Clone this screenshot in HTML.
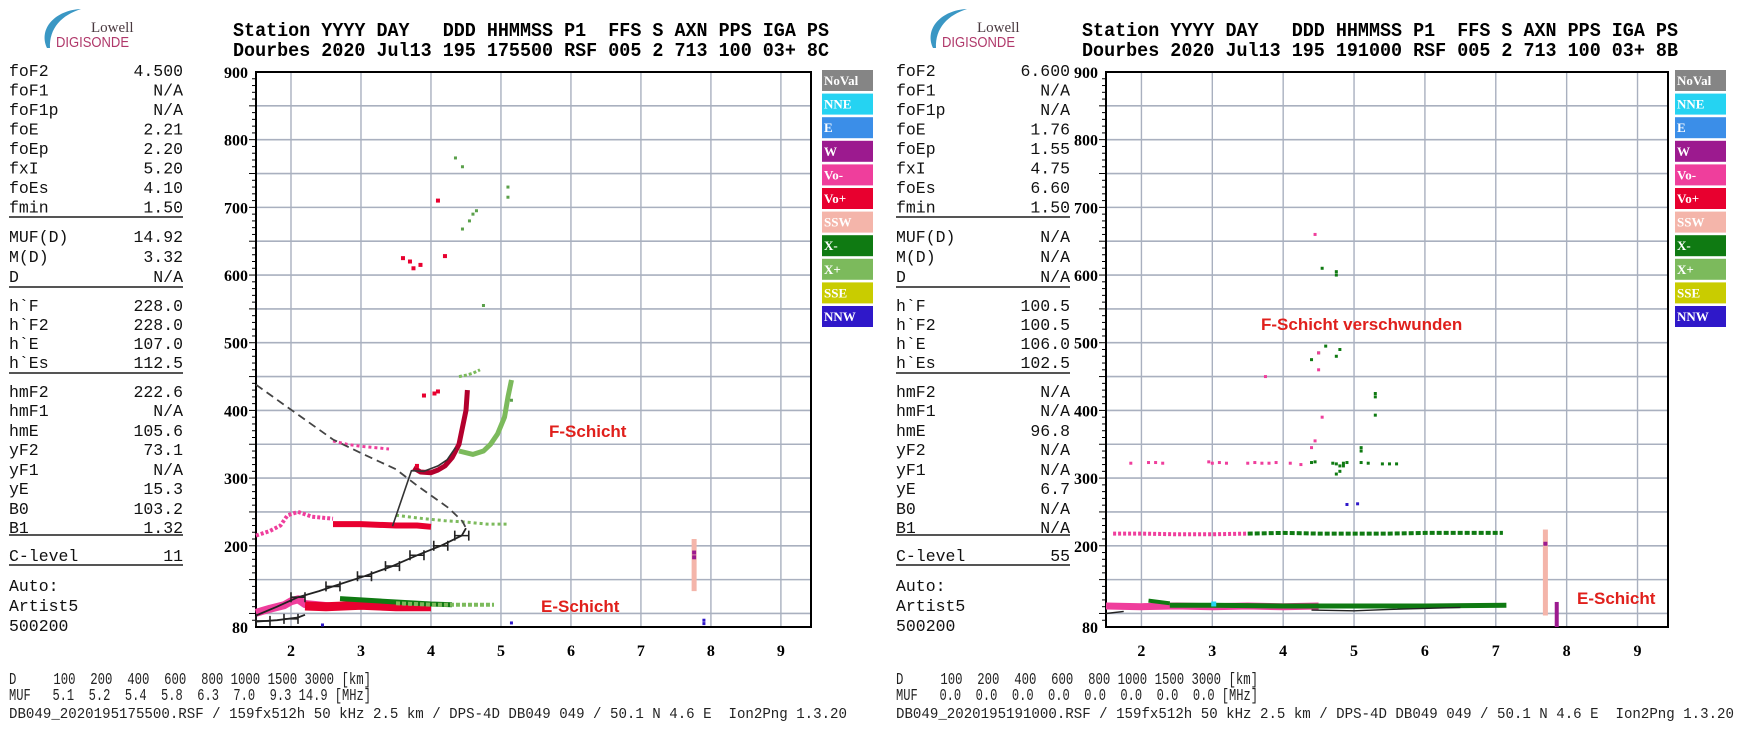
<!DOCTYPE html>
<html><head><meta charset="utf-8"><style>
html,body{margin:0;padding:0;background:#fff;}
svg{display:block;}
</style></head><body>
<svg id="root" xmlns="http://www.w3.org/2000/svg" width="1750" height="732" viewBox="0 0 1750 732"></svg>
<script>
// ===== data arrays =====
const yTicks = [900,800,700,600,500,400,300,200,80];
const xTicks = [2,3,4,5,6,7,8,9];
const legendLabels = ["NoVal","NNE","E","W","Vo-","Vo+","SSW","X-","X+","SSE","NNW"];
const legendColors = ["#858585","#25d3f2","#3b8ee8","#9c1a8f","#ef3e9c","#e8002f","#f4b5aa","#0f7a12","#7cba5c","#c9cc00","#2f18c9"];
const paramNames = ["foF2","foF1","foF1p","foE","foEp","fxI","foEs","fmin","MUF(D)","M(D)","D","h`F","h`F2","h`E","h`Es","hmF2","hmF1","hmE","yF2","yF1","yE","B0","B1","C-level"];
const leftParamValues = ["4.500","N/A","N/A","2.21","2.20","5.20","4.10","1.50","14.92","3.32","N/A","228.0","228.0","107.0","112.5","222.6","N/A","105.6","73.1","N/A","15.3","103.2","1.32","11"];
const rightParamValues = ["6.600","N/A","N/A","1.76","1.55","4.75","6.60","1.50","N/A","N/A","N/A","100.5","100.5","106.0","102.5","N/A","N/A","96.8","N/A","N/A","6.7","N/A","N/A","55"];

// Left ionogram traces (freq MHz, height km)
const L_eVoMinusF = [1.5,1.7,1.9,2.0,2.1,2.2,2.4,2.6];
const L_eVoMinusH = [101,107,112,118,121,114,112,110];
const L_eVoPlusF = [2.2,2.5,3.0,3.5,4.0];
const L_eVoPlusH = [111,110,112,110,110];
const L_eXMinusF = [2.7,3.0,3.5,4.0,4.3];
const L_eXMinusH = [122,120,117,114,113];
const L_eXPlusF = [3.5,4.0,4.5,4.9];
const L_eXPlusH = [115,113,113,113];
const L_fPinkF = [1.5,1.7,1.85,1.95,2.1,2.3,2.6];
const L_fPinkH = [215,222,230,245,250,243,240];
const L_fRedF = [2.6,3.0,3.5,3.8,4.0];
const L_fRedH = [232,232,230,230,228];
const L_f235F = [3.5,3.9,4.2,4.5,4.8,5.1];
const L_f235H = [245,240,237,235,232,232];
const L_f345F = [2.6,2.8,3.0,3.2,3.4];
const L_f345H = [355,350,347,345,343];
const L_oTraceF = [3.75,3.85,4.0,4.1,4.2,4.3,4.4,4.45,4.5,4.52];
const L_oTraceH = [315,309,308,312,318,330,350,375,400,430];
const L_xTraceF = [4.4,4.6,4.75,4.85,4.95,5.05,5.1,5.15];
const L_xTraceH = [340,335,340,350,365,390,420,445];
const L_x450F = [4.4,4.5,4.6,4.7];
const L_x450H = [450,452,455,460];
const L_redDotsF = [3.9,4.05,4.1,4.1,4.2,3.75,3.85,3.6,3.7,3.8];
const L_redDotsH = [422,425,428,710,628,610,615,625,620,318];
const L_greenDotsF = [4.45,4.55,4.6,4.65,5.1,5.1,4.75,4.45,4.35,5.15];
const L_greenDotsH = [668,680,690,695,715,730,555,760,773,415];
const L_dashF = [1.5,2.0,2.6,3.0,3.5,3.8,4.25,4.45,4.5];
const L_dashH = [438,401,357,337,313,289,256,236,226];
const L_profF = [1.5,1.8,2.1,2.4,2.6,3.05,3.45,3.8,4.14,4.44,4.5];
const L_profH = [97,110,124,133,140,155,170,186,200,215,226];
const L_errF = [2.1,2.6,3.05,3.45,3.8,4.14,4.44];
const L_errH = [124,140,155,170,186,200,215];
const L_lowF = [1.5,1.8,2.1,2.2];
const L_lowH = [88,90,94,98];
const L_lowErrF = [1.6,2.0];
const L_lowErrH = [89,92];
const L_linkF = [3.45,3.72,3.9,4.1,4.23,4.35];
const L_linkH = [229,311,310,318,327,345];
const L_sswF = [7.76];
const L_sswTop = [210];
const L_sswBottom = [133];

// Right ionogram traces
const R_eVoMinusF = [1.5,2.0,2.5,3.0,3.5,4.0,4.5];
const R_eVoMinusH = [111,110,111,110,111,110,111];
const R_eXMinusF = [2.4,3.0,4.0,5.0,6.0,7.15];
const R_eXMinusH = [112,112,111,111,111,112];
const R_eXTopF = [2.1,2.4];
const R_eXTopH = [119,115];
const R_blackF = [4.4,5.0,5.5,6.5];
const R_blackH = [105,104,106,109];
const R_blackLowF = [1.5,1.75];
const R_blackLowH = [100,103];
const R_fPinkF = [1.6,2.0,2.5,3.0,3.5];
const R_fPinkH = [218,218,217,217,218];
const R_fGreenF = [3.5,4.0,4.5,5.0,5.5,6.0,6.5,7.1];
const R_fGreenH = [218,219,218,218,218,219,219,219];
const R_scatPinkF = [1.85,2.1,2.2,2.3,2.95,3.0,3.1,3.2,3.5,3.6,3.7,3.8,3.9,4.1,4.25];
const R_scatPinkH = [322,323,323,322,324,322,323,322,322,323,322,322,323,322,320];
const R_scatGreenF = [4.4,4.45,4.7,4.75,4.8,4.85,4.9,5.1,5.2,5.4,5.5,5.6];
const R_scatGreenH = [323,324,322,321,318,322,323,323,322,321,321,321];
const R_upGreenF = [4.75,4.8,4.85,5.1,5.1,5.3,5.3,5.3,4.75,4.8,4.4,4.5,4.6,4.75,4.75,4.55];
const R_upGreenH = [306,310,318,340,345,393,420,425,480,490,475,485,495,605,600,610];
const R_upPinkF = [4.4,4.45,4.55,4.5,4.5,4.45,3.75];
const R_upPinkH = [345,355,390,460,485,660,450];
const R_blueF = [5.05,4.9];
const R_blueH = [262,261];
const R_sswF = [7.7];
const R_sswTop = [224];
const R_sswBottom = [97];
const R_purpleF = [7.86];
const R_purpleTop = [117];
const R_purpleBottom = [80];

// ===== helpers =====
const NS = "http://www.w3.org/2000/svg";
const root = document.getElementById("root");
function mk(tag, attrs, parent) {
  const e = document.createElementNS(NS, tag);
  for (const k in attrs) e.setAttribute(k, attrs[k]);
  (parent || root).appendChild(e);
  return e;
}
function txt(s, attrs, parent) { const e = mk("text", attrs, parent); e.textContent = s; return e; }

const Y0 = 72, Y1 = 627, HMIN = 80, HMAX = 900, FMIN = 1.5, FMAX = 9.43;
function makeAxes(x0, x1) {
  return {
    x: f => x0 + (f - FMIN) / (FMAX - FMIN) * (x1 - x0),
    y: h => Y1 - (h - HMIN) / (HMAX - HMIN) * (Y1 - Y0)
  };
}

function drawPanel(px0, px1, name) {
  const g = mk("g", {});
  
  
  const ax = makeAxes(px0, px1);
  for (let h = 100; h < 900; h += 50) {
    const l = mk("line", {x1: px0, x2: px1, y1: ax.y(h), y2: ax.y(h), stroke: "#a9b0bf", "stroke-width": 1.6}, g);
    
    
  }
  xTicks.forEach(f => {
    const l = mk("line", {x1: ax.x(f), x2: ax.x(f), y1: Y0, y2: Y1, stroke: "#a9b0bf", "stroke-width": 1.4}, g);
    
    
    const t = txt(String(f), {x: ax.x(f), y: 656, "text-anchor": "middle", "font-family": "Liberation Serif, serif", "font-weight": "bold", "font-size": 16}, g);
    
    
  });
  for (let h = 90; h < 900; h += 10) {
    const len = (h % 50 === 0) ? 7 : 4;
    mk("line", {x1: px0 - len, x2: px0, y1: ax.y(h), y2: ax.y(h), stroke: "#000", "stroke-width": 1}, g);
  }
  yTicks.forEach(h => {
    const t = txt(String(h), {x: px0 - 8, y: ax.y(h) + 6, "text-anchor": "end", "font-family": "Liberation Serif, serif", "font-weight": "bold", "font-size": 16}, g);
    
    
  });
  const fr = mk("rect", {x: px0, y: Y0, width: px1 - px0, height: Y1 - Y0, fill: "none", stroke: "#000", "stroke-width": 2}, g);
  
  
  return {g, ax};
}

function poly(P, F, H, color, w, name, dash) {
  const pts = F.map((f, i) => P.ax.x(f).toFixed(1) + "," + P.ax.y(H[i]).toFixed(1)).join(" ");
  const a = {points: pts, fill: "none", stroke: color, "stroke-width": w, "stroke-linejoin": "round"};
  if (dash) a["stroke-dasharray"] = dash;
  const e = mk("polyline", a, P.g);
  
  
}
function dots(P, F, H, color, s, name) {
  F.forEach((f, i) => {
    const e = mk("rect", {x: P.ax.x(f) - s / 2, y: P.ax.y(H[i]) - s / 2, width: s, height: s, fill: color}, P.g);
    
    
  });
}
function vbars(P, F, T, B, color, w, name) {
  F.forEach((f, i) => {
    const e = mk("rect", {x: P.ax.x(f) - w / 2, y: P.ax.y(T[i]), width: w, height: P.ax.y(B[i]) - P.ax.y(T[i]), fill: color}, P.g);
    
    
  });
}
function errbars(P, F, H, name) {
  F.forEach((f, i) => {
    const cx = P.ax.x(f), cy = P.ax.y(H[i]);
    const e = mk("path", {d: `M${cx-7},${cy}H${cx+7}M${cx-7},${cy-5}V${cy+5}M${cx+7},${cy-5}V${cy+5}`, stroke: "#222", "stroke-width": 1.6, fill: "none"}, P.g);
    
    
  });
}

function drawLegend(x, name) {
  const g = mk("g", {});
  
  
  legendLabels.forEach((lab, i) => {
    const y = 70 + i * 23.6;
    const r = mk("rect", {x: x, y: y, width: 51, height: 21, fill: legendColors[i]}, g);
    
    
    const t = txt(lab, {x: x + 2, y: y + 15, fill: "#fff", "font-family": "Liberation Serif, serif", "font-weight": "bold", "font-size": 13}, g);
    
    
  });
}

function drawParams(x, values, name) {
  const g = mk("g", {"font-family": "Liberation Mono, monospace", "font-size": 16.5, fill: "#111"});
  
  
  const rowY = [70,89.5,109,128.5,148,167.5,187,206.5, 236,256,276, 305,324,343,362, 391,410,430,449,469,488,508,527, 555];
  paramNames.forEach((n, i) => {
    const a = txt(n, {x: x, y: rowY[i] + 6}, g);
    
    
    const b = txt(values[i], {x: x + 174, y: rowY[i] + 6, "text-anchor": "end"}, g);
    
    
  });
  [217, 287, 373, 535, 565].forEach(y => mk("line", {x1: x, x2: x + 174, y1: y, y2: y, stroke: "#555", "stroke-width": 2}, g));
  ["Auto:", "Artist5", "500200"].forEach((s, i) => {
    const t = txt(s, {x: x, y: 591 + i * 20}, g);
    
    
  });
}

function drawLogo(x, name) {
  const g = mk("g", {});
  
  
  mk("path", {d: `M${x+3},${48} C${x-6},${28} ${x+12},${10} ${x+37},${9} C${x+18},${15} ${x+5},${28} ${x+6},${48}Z`, fill: "#3a97c4"}, g);
  txt("Lowell", {x: x + 47, y: 32, "font-family": "Liberation Serif, serif", "font-size": 15, fill: "#4a3a40"}, g);
  txt("DIGISONDE", {x: x + 12, y: 47, "font-family": "Liberation Sans, sans-serif", "font-size": 15, fill: "#b0386a", textLength: 73, lengthAdjust: "spacingAndGlyphs"}, g);
}

function header(x, line2, name) {
  const g = mk("g", {"font-family": "Liberation Mono, monospace", "font-size": 19, fill: "#000", "font-weight": "bold"});
  
  
  txt("Station YYYY DAY   DDD HHMMSS P1  FFS S AXN PPS IGA PS", {x: x, y: 36, textLength: 596, lengthAdjust: "spacingAndGlyphs", style: "white-space:pre"}, g);
  txt(line2, {x: x, y: 56, textLength: 596, lengthAdjust: "spacingAndGlyphs", style: "white-space:pre"}, g);
}

function footer(x, muf, file, name) {
  const g = mk("g", {"font-family": "Liberation Mono, monospace", "font-size": 17, fill: "#222"});
  
  
  txt("D     100  200  400  600  800 1000 1500 3000 [km]", {x: x, y: 684, textLength: 362, lengthAdjust: "spacingAndGlyphs", style: "white-space:pre"}, g);
  txt(muf, {x: x, y: 700, textLength: 362, lengthAdjust: "spacingAndGlyphs", style: "white-space:pre"}, g);
  txt(file, {x: x, y: 718, textLength: 838, lengthAdjust: "spacingAndGlyphs", "font-size": 15, style: "white-space:pre"}, g);
}

function label(s, x, y, name) {
  const t = txt(s, {x: x, y: y, fill: "#e0201c", "font-family": "Liberation Sans, sans-serif", "font-weight": "bold", "font-size": 17});
  
  
}

// ===== left panel =====
drawLogo(44, "logo-left");
header(233, "Dourbes 2020 Jul13 195 175500 RSF 005 2 713 100 03+ 8C", "header-left");
drawParams(9, leftParamValues, "params-left");
const L = drawPanel(256, 811, "ionogram-left");
poly(L, L_fPinkF, L_fPinkH, "#ef3e9c", 4, "f-vo-minus-band", "3 2");
poly(L, L_f345F, L_f345H, "#ef3e9c", 3, "f-vo-minus-echo", "3 3");
poly(L, L_f235F, L_f235H, "#7cba5c", 3, "f-x-plus-band", "3 3");
poly(L, L_fRedF, L_fRedH, "#e8002f", 6, "f-vo-plus-band");
poly(L, L_x450F, L_x450H, "#7cba5c", 3, "x-plus-echo-450", "3 2");
poly(L, L_xTraceF, L_xTraceH, "#7cba5c", 5, "f-x-plus-trace");
poly(L, L_oTraceF, L_oTraceH, "#b3002d", 5, "f-o-trace");
poly(L, L_eVoMinusF, L_eVoMinusH, "#ef3e9c", 8, "e-vo-minus-band");
poly(L, L_eVoPlusF, L_eVoPlusH, "#e8002f", 9, "e-vo-plus-band");
poly(L, L_eXMinusF, L_eXMinusH, "#0f7a12", 5, "e-x-minus-band");
poly(L, L_eXPlusF, L_eXPlusH, "#7cba5c", 4, "e-x-plus-band", "4 2");
dots(L, L_redDotsF, L_redDotsH, "#e8002f", 4, "red-echo");
dots(L, L_greenDotsF, L_greenDotsH, "#5aa04a", 3, "green-echo");
poly(L, L_dashF, L_dashH, "#444", 1.8, "profile-dashed", "8 5");
poly(L, L_profF, L_profH, "#222", 1.8, "virtual-height-profile");
errbars(L, L_errF, L_errH, "profile-error-bar");
poly(L, L_lowF, L_lowH, "#222", 1.8, "low-profile");
errbars(L, L_lowErrF, L_lowErrH, "profile-error-bar");
poly(L, L_linkF, L_linkH, "#333", 1.6, "profile-link");
vbars(L, L_sswF, L_sswTop, L_sswBottom, "#f4b5aa", 5, "ssw-bar");
dots(L, [7.76, 7.76], [190, 183], "#9c1a8f", 4, "w-echo");
dots(L, [5.15, 7.9, 7.9, 2.45], [86, 85, 90, 83], "#2f18c9", 3, "misc-echo");
label("F-Schicht", 549, 437, "f-layer-label");
label("E-Schicht", 541, 612, "e-layer-label");
drawLegend(822, "legend-left");
footer(9, "MUF   5.1  5.2  5.4  5.8  6.3  7.0  9.3 14.9 [MHz]", "DB049_2020195175500.RSF / 159fx512h 50 kHz 2.5 km / DPS-4D DB049 049 / 50.1 N 4.6 E  Ion2Png 1.3.20", "footer-left");

// ===== right panel =====
drawLogo(930, "logo-right");
header(1082, "Dourbes 2020 Jul13 195 191000 RSF 005 2 713 100 03+ 8B", "header-right");
drawParams(896, rightParamValues, "params-right");
const R = drawPanel(1106, 1668, "ionogram-right");
poly(R, R_fPinkF, R_fPinkH, "#ef3e9c", 4, "f-vo-minus-band", "3 2");
poly(R, R_fGreenF, R_fGreenH, "#0f7a12", 4, "f-x-minus-band", "5 2");
dots(R, R_scatPinkF, R_scatPinkH, "#ef3e9c", 3, "pink-echo");
dots(R, R_scatGreenF, R_scatGreenH, "#0f7a12", 3, "green-echo");
dots(R, R_upGreenF, R_upGreenH, "#0f7a12", 3, "green-echo");
dots(R, R_upPinkF, R_upPinkH, "#ef3e9c", 3, "pink-echo");
dots(R, R_blueF, R_blueH, "#2f18c9", 3, "blue-echo");
poly(R, R_eVoMinusF, R_eVoMinusH, "#ef3e9c", 7, "e-vo-minus-band");
poly(R, R_eXMinusF, R_eXMinusH, "#0f7a12", 5, "e-x-minus-band");
poly(R, R_eXTopF, R_eXTopH, "#0f7a12", 4, "e-x-minus-top");
poly(R, R_blackF, R_blackH, "#222", 1.4, "profile-line");
poly(R, R_blackLowF, R_blackLowH, "#222", 1.4, "low-profile");
dots(R, [3.02], [114], "#25d3f2", 5, "nne-echo");
vbars(R, R_sswF, R_sswTop, R_sswBottom, "#f4b5aa", 5, "ssw-bar");
dots(R, [7.7], [203], "#9c1a8f", 4, "w-echo");
vbars(R, R_purpleF, R_purpleTop, R_purpleBottom, "#9c1a8f", 4, "w-bar");
label("F-Schicht verschwunden", 1261, 330, "f-layer-gone-label");
label("E-Schicht", 1577, 604, "e-layer-label-right");
drawLegend(1675, "legend-right");
footer(896, "MUF   0.0  0.0  0.0  0.0  0.0  0.0  0.0  0.0 [MHz]", "DB049_2020195191000.RSF / 159fx512h 50 kHz 2.5 km / DPS-4D DB049 049 / 50.1 N 4.6 E  Ion2Png 1.3.20", "footer-right");
</script>
</body></html>
